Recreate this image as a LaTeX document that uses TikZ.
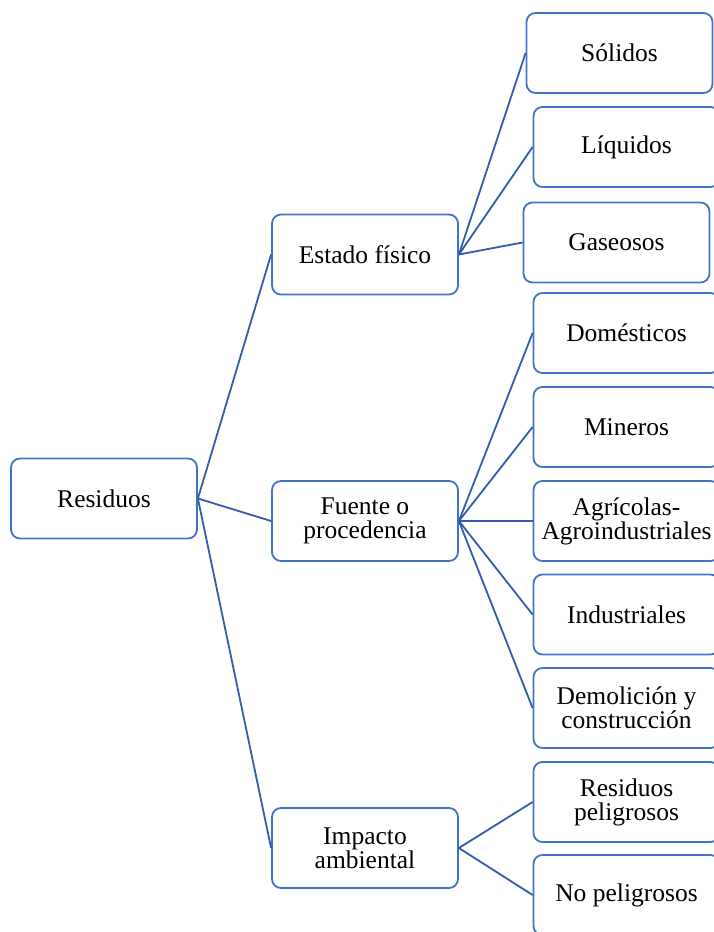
\documentclass[tikz,border=0pt]{standalone}
\usepackage{fontspec}
\setmainfont{Liberation Serif}
\definecolor{boxblue}{RGB}{68,114,196}
\definecolor{lineblue}{RGB}{52,92,172}
\begin{document}
\begin{tikzpicture}[x=1pt,y=-1pt,
  box/.style={draw=boxblue, line width=1.8pt, rounded corners=9pt, minimum width=186pt, minimum height=80pt, align=center, font=\fontsize{25.5}{24}\selectfont, inner sep=0pt, fill=white},
  link/.style={draw=lineblue, line width=1.8pt}]
\useasboundingbox (0,0) rectangle (714,932);
\clip (0,0) rectangle (714,932);
\node[box] (res) at (104,498.5) {Residuos};
\node[box] (est) at (365,254.5) {Estado físico};
\node[box] (fue) at (365,521) {Fuente o\\procedencia};
\node[box] (imp) at (365,848) {Impacto\\ambiental};
\node[box] (sol) at (619.5,53) {Sólidos};
\node[box] (liq) at (626.5,147) {Líquidos};
\node[box] (gas) at (616.5,242.5) {Gaseosos};
\node[box] (dom) at (626.5,333) {Domésticos};
\node[box] (min) at (626.5,427) {Mineros};
\node[box] (agr) at (626.5,521) {Agrícolas-\\Agroindustriales};
\node[box] (ind) at (626.5,614.5) {Industriales};
\node[box] (dem) at (626.5,708) {Demolición y\\construcción};
\node[box] (rp) at (626.5,802) {Residuos\\peligrosos};
\node[box] (np) at (626.5,895) {No peligrosos};
\draw[link] (res.east) -- (est.west);
\draw[link] (res.east) -- (fue.west);
\draw[link] (res.east) -- (imp.west);
\draw[link] (est.east) -- (sol.west);
\draw[link] (est.east) -- (liq.west);
\draw[link] (est.east) -- (gas.west);
\draw[link] (fue.east) -- (dom.west);
\draw[link] (fue.east) -- (min.west);
\draw[link] (fue.east) -- (agr.west);
\draw[link] (fue.east) -- (ind.west);
\draw[link] (fue.east) -- (dem.west);
\draw[link] (imp.east) -- (rp.west);
\draw[link] (imp.east) -- (np.west);
\end{tikzpicture}
\end{document}
